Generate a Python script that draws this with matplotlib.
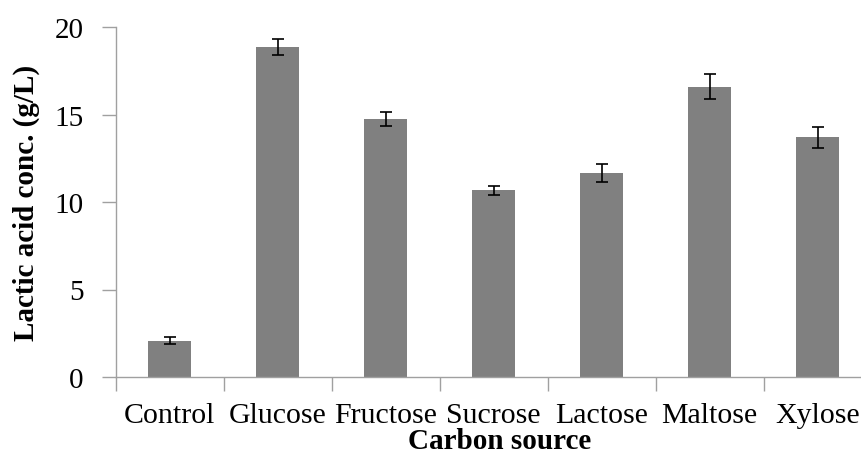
import numpy as np
import matplotlib
matplotlib.use("Agg")
import matplotlib.pyplot as plt

plt.rcParams["font.family"] = ["Liberation Serif", "DejaVu Serif"]

sources = ["Control", "Glucose", "Fructose", "Sucrose", "Lactose", "Maltose", "Xylose"]
lactic = [2.08, 18.86, 14.75, 10.66, 11.66, 16.6, 13.7]
err = [0.19, 0.45, 0.41, 0.27, 0.5, 0.7, 0.6]

fig = plt.figure(figsize=(8.61, 4.52), dpi=100)
# axes run a little past the right edge, like the cropped original
ax = fig.add_axes([115.5 / 861, 74 / 452, 756 / 861, 350 / 452])

x = np.arange(len(sources))
ax.bar(x, lactic, width=0.4, color="#808080", zorder=2)
ax.errorbar(x, lactic, yerr=err, fmt="none", ecolor="black",
            elinewidth=1.2, capsize=4.3, capthick=1.2, zorder=3)

ax.set_xlim(-0.5, len(sources) - 0.5)
ax.set_ylim(0, 20)
ax.set_yticks([0, 5, 10, 15, 20])

# labels sit at the bar centres, tick marks at the category boundaries
ax.set_xticks(x)
ax.set_xticklabels(sources, fontsize=21.5)
ax.tick_params(axis="x", which="major", length=0, pad=18)
ax.set_xticks(np.arange(len(sources) + 1) - 0.5, minor=True)
ax.tick_params(axis="x", which="minor", length=10, width=1, color="#a0a0a0",
               direction="out")
ax.tick_params(axis="y", length=10, width=1, color="#a0a0a0", direction="out",
               labelsize=21, pad=13)

for side in ["top", "right"]:
    ax.spines[side].set_visible(False)
for side in ["left", "bottom"]:
    ax.spines[side].set_color("#a0a0a0")
    ax.spines[side].set_linewidth(1)

ax.set_ylabel("Lactic acid conc. (g/L)", fontsize=21, fontweight="bold", labelpad=10)
ax.set_xlabel("Carbon source", fontsize=21, fontweight="bold")
ax.xaxis.label.set_va("center")
ax.xaxis.set_label_coords((500 - 115.5) / 756, (378 - 442) / 350)

plt.savefig("out.png", dpi=100)
